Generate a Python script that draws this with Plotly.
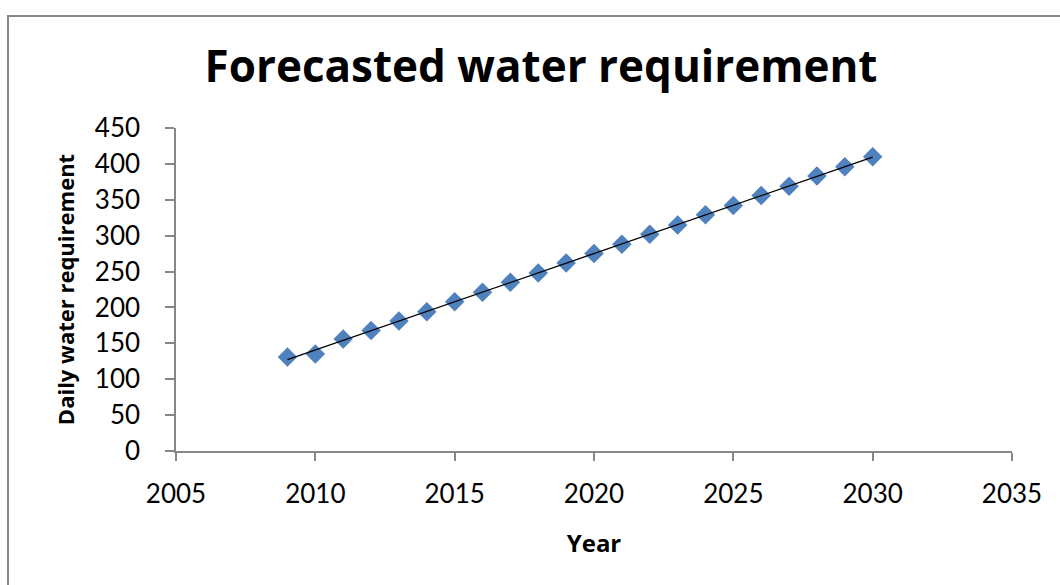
import numpy as np
import plotly.graph_objects as go

# Forecast years and daily water requirement
years = [2009, 2010, 2011, 2012, 2013, 2014, 2015, 2016, 2017, 2018, 2019,
         2020, 2021, 2022, 2023, 2024, 2025, 2026, 2027, 2028, 2029, 2030]
requirement = [131, 135, 156, 168, 181, 194, 208, 221, 235, 248, 262,
               275, 288, 302, 315, 329, 342, 356, 369, 383, 396, 410]

x_ticks = [2005, 2010, 2015, 2020, 2025, 2030, 2035]
y_ticks = [0, 50, 100, 150, 200, 250, 300, 350, 400, 450]

# Linear trend line fitted to the forecast points
slope, intercept = np.polyfit(years, requirement, 1)
trend_x = [years[0], years[-1]]
trend_y = [slope * x + intercept for x in trend_x]

TICK_FONT = "Lato"
TITLE_FONT = "Open Sans"
AXIS_GREY = "#868686"

fig = go.Figure()
fig.add_trace(go.Scatter(
    x=years, y=requirement, mode="markers",
    marker=dict(symbol="diamond", size=15, color="#4F81BD", line=dict(width=0)),
    showlegend=False, hoverinfo="x+y",
))
fig.add_trace(go.Scatter(
    x=trend_x, y=trend_y, mode="lines",
    line=dict(color="#000000", width=1.3),
    showlegend=False, hoverinfo="skip",
))

fig.update_layout(
    width=1060, height=585, autosize=False,
    margin=dict(l=176, r=48, t=128, b=134),
    paper_bgcolor="white", plot_bgcolor="white",
    font=dict(family=TICK_FONT, color="#000000"),
    title=dict(
        text="<b>Forecasted water requirement</b>",
        font=dict(family=TITLE_FONT, size=44, color="#000000"),
        xref="paper", x=0.4366, xanchor="center",
        yref="container", y=1 - 67 / 585, yanchor="middle",
    ),
    xaxis=dict(
        range=[2005, 2035], tickvals=x_ticks, ticktext=[str(v) for v in x_ticks],
        showgrid=False, zeroline=False,
        showline=True, linecolor=AXIS_GREY, linewidth=1.5,
        ticks="outside", ticklen=8, tickcolor=AXIS_GREY, tickwidth=1.5,
        tickfont=dict(family=TICK_FONT, size=26, color="#000000"),
        ticklabelstandoff=11,
        title=dict(text="<b>Year</b>", font=dict(family=TITLE_FONT, size=24, color="#000000"),
                   standoff=27),
    ),
    yaxis=dict(
        range=[0, 450], tickvals=y_ticks, ticktext=[str(v) for v in y_ticks],
        showgrid=False, zeroline=False,
        showline=True, linecolor=AXIS_GREY, linewidth=1.5,
        ticks="outside", ticklen=9, tickcolor=AXIS_GREY, tickwidth=1.5,
        tickfont=dict(family=TICK_FONT, size=26, color="#000000"),
        ticklabelstandoff=20,
        title=dict(text="<b>Daily water requirement</b>",
                   font=dict(family=TITLE_FONT, size=22, color="#000000"), standoff=14),
    ),
    shapes=[dict(
        type="rect", xref="paper", yref="paper", layer="below",
        x0=(8 - 176) / 836, x1=(1100 - 176) / 836,
        y0=(451 - 600) / 323, y1=(451 - 16) / 323,
        line=dict(color=AXIS_GREY, width=2), fillcolor="rgba(0,0,0,0)",
    )],
)

fig.write_html("out.html")
